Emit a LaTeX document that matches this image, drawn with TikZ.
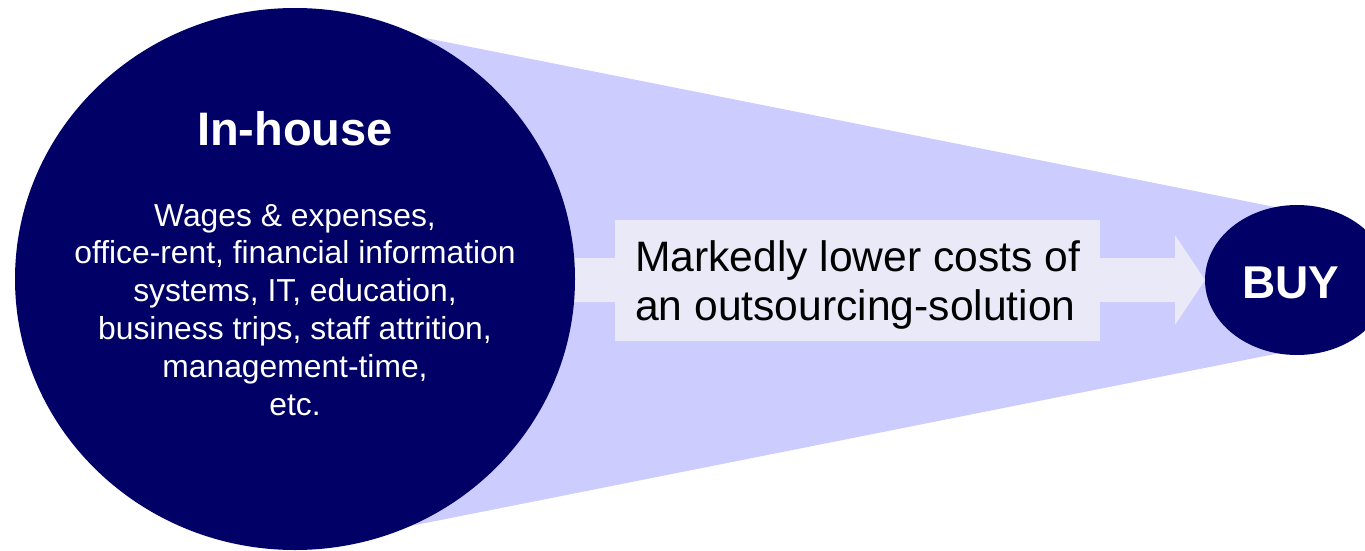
\documentclass[tikz,border=0pt]{standalone}
\usepackage{fontspec}
\setmainfont{Liberation Sans}
\usetikzlibrary{shapes.geometric}
\definecolor{navy}{HTML}{000066}
\definecolor{cone}{HTML}{CCCCFF}
\definecolor{pale}{HTML}{E9E9F7}
\tikzset{
  blob/.style={ellipse, fill=navy, draw=none, inner sep=0pt},
  wtext/.style={text=white, inner sep=0pt, anchor=base},
  btext/.style={text=black, inner sep=0pt, anchor=base west, font=\fontsize{42.6}{50}\selectfont}
}
\begin{document}
\begin{tikzpicture}[x=1pt,y=-1pt]
\useasboundingbox (0,0) rectangle (1365,551);
\clip (0,0) rectangle (1365,551);
% cone
\fill[cone] (295,12) -- (1285,209) -- (1285,352) -- (295,549) -- cycle;
% arrow
\fill[pale] (560,258) -- (1175,258) -- (1175,235) -- (1205,280) -- (1175,325) -- (1175,302) -- (560,302) -- cycle;
% circles
\node[blob, minimum width=560pt, minimum height=542pt] (inhouse) at (295,279) {};
\node[blob, minimum width=184pt, minimum height=150pt] (buy) at (1297,280) {};
% text box
\node[fill=pale, inner sep=0pt, minimum width=485pt, minimum height=121pt, anchor=north west] (box) at (615,220) {};
% texts
\node[wtext, font=\bfseries\fontsize{47}{56}\selectfont] (title) at (295,145) {In-house};
\foreach \t [count=\i] in {{Wages \& expenses,},{office-rent, financial information},{systems, IT, education,},{business trips, staff attrition,},{management-time,},{etc.}}
  \node[wtext, font=\fontsize{31.8}{38}\selectfont] (w\i) at (295,{226+37.8*(\i-1)}) {\t};
\node[wtext, font=\bfseries\fontsize{46}{55}\selectfont] (buylabel) at (1291,298) {BUY};
\node[btext] (m1) at (635,271) {Markedly lower costs of};
\node[btext] (m2) at (635,320) {an outsourcing-solution};
\end{tikzpicture}
\end{document}
